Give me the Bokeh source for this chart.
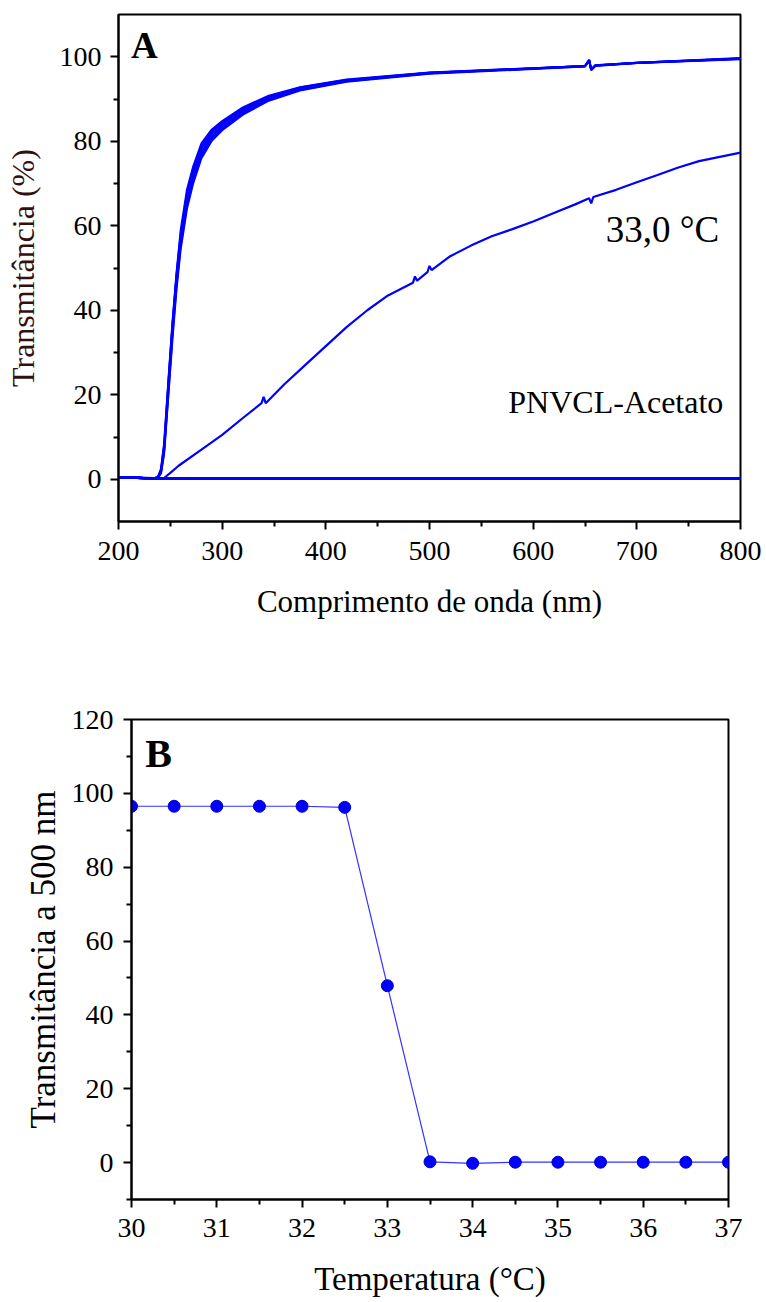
from bokeh.plotting import figure
from bokeh.models import FixedTicker, Label
from bokeh.embed import file_html
from bokeh.resources import INLINE

# ---------------- Panel A data: UV-Vis spectra ----------------
wl_top = [200, 225, 235, 238, 241, 244, 248, 252, 256, 260, 266, 272, 280, 290, 300,
          320, 345, 375, 420, 500, 600, 650, 654, 656, 660, 700, 800]
t_30_0 = [0.5, 0.3, 0.3, 0.5, 2.5, 8.5, 23, 37, 49, 59, 68.5, 74, 79.5, 82.8, 84.8,
          88, 90.8, 92.8, 94.6, 96.3, 97.3, 97.8, 99.3, 97.0, 98.0, 98.6, 99.7]
t_30_5 = [0.5, 0.3, 0.3, 0.5, 2.2, 8.0, 22.5, 36.5, 48.5, 58, 67.5, 73.2, 78.8, 82.3, 84.4,
          87.7, 90.6, 92.7, 94.5, 96.2, 97.3, 97.8, 99.2, 97.0, 98.0, 98.6, 99.6]
t_31_0 = [0.5, 0.3, 0.3, 0.4, 2.0, 7.5, 22, 36, 48, 57, 66.5, 72.4, 78.1, 81.8, 84.0,
          87.4, 90.4, 92.5, 94.4, 96.2, 97.2, 97.8, 99.2, 97.0, 97.9, 98.6, 99.6]
t_31_5 = [0.5, 0.3, 0.3, 0.4, 1.8, 7.0, 21, 35, 47, 56, 65.5, 71.5, 77.4, 81.2, 83.5,
          87.0, 90.1, 92.3, 94.3, 96.1, 97.2, 97.8, 99.1, 96.9, 97.9, 98.5, 99.5]
t_32_0 = [0.5, 0.3, 0.3, 0.4, 1.6, 6.5, 20, 34, 46, 55.3, 64.8, 70.8, 76.7, 80.7, 83.0,
          86.6, 89.8, 92.1, 94.2, 96.1, 97.2, 97.7, 99.1, 96.9, 97.9, 98.5, 99.5]
t_32_5 = [0.5, 0.3, 0.3, 0.3, 1.4, 6.0, 19.5, 33, 45, 54.5, 64.0, 70.0, 76.0, 80.1, 82.6,
          86.3, 89.6, 92.0, 94.1, 96.0, 97.1, 97.7, 99.0, 96.8, 97.8, 98.5, 99.4]

wl_mid = [200, 235, 244, 250, 258, 280, 300, 320, 338, 340, 342, 360, 380, 400, 420, 440,
          460, 484, 486, 488, 498, 500, 502, 520, 540, 560, 580, 600, 620, 640, 654, 656,
          658, 680, 700, 720, 740, 760, 780, 800]
t_33_0 = [0.5, 0.3, 0.3, 1.5, 3.2, 7, 10.5, 14.5, 18, 19.5, 18, 22.5, 27, 31.5, 36, 40,
          43.5, 46.5, 48, 47, 49, 50.5, 49.5, 52.8, 55.3, 57.5, 59.2, 61, 63, 65, 66.5, 65.3,
          66.8, 68.5, 70.3, 72, 73.8, 75.3, 76.3, 77.3]

wl_hot = [200, 230, 245, 800]
t_hot = [0.5, 0.2, 0.2, 0.2]   # 33.5 ... 37.0 degC (all flat)
hot_temps = ["33,5", "34,0", "34,5", "35,0", "35,5", "36,0", "36,5", "37,0"]

# ---------------- Panel B data ----------------
temps = [30, 30.5, 31, 31.5, 32, 32.5, 33, 33.5, 34, 34.5, 35, 35.5, 36, 36.5, 37]
t500 = [96.5, 96.5, 96.5, 96.5, 96.5, 96.2, 47.9, 0.2, -0.2, 0.1, 0.1, 0.1, 0.1, 0.1, 0.1]

FONT = "Liberation Serif"
BLUE = "#0000ff"


def style(p, xt, xminor, yt, yminor):
    p.xgrid.visible = False
    p.ygrid.visible = False
    p.outline_line_color = "black"
    p.outline_line_width = 2
    p.background_fill_color = "white"
    p.border_fill_color = "white"
    p.xaxis.ticker = FixedTicker(ticks=xt, minor_ticks=xminor)
    p.yaxis.ticker = FixedTicker(ticks=yt, minor_ticks=yminor)
    for ax in (p.xaxis[0], p.yaxis[0]):
        ax.axis_line_width = 2
        ax.axis_line_color = "black"
        ax.major_tick_line_width = 2
        ax.minor_tick_line_width = 2
        ax.major_tick_in = 0
        ax.major_tick_out = 8
        ax.minor_tick_in = 0
        ax.minor_tick_out = 5
        ax.major_label_text_font = FONT
        ax.major_label_text_font_size = "28px"
        ax.major_label_text_color = "black"
        ax.axis_label_text_font = FONT
        ax.axis_label_text_font_style = "normal"
        ax.axis_label_text_color = "black"


# ---------------- Panel A ----------------
pA = figure(width=766, height=700, x_range=(200, 800), y_range=(-10, 110),
            output_backend="svg", toolbar_location=None,
            min_border_left=118, min_border_right=26, min_border_top=14, min_border_bottom=179)
style(pA, [200, 300, 400, 500, 600, 700, 800], [250, 350, 450, 550, 650, 750],
      [0, 20, 40, 60, 80, 100], [10, 30, 50, 70, 90])
pA.xaxis.axis_label = "Comprimento de onda (nm)"
pA.yaxis.axis_label = "Transmitância (%)"
pA.xaxis.axis_label_text_font_size = "31px"
pA.yaxis.axis_label_text_font_size = "32px"
pA.yaxis.axis_label_text_color = "#331010"
pA.xaxis.major_label_standoff = 12
pA.xaxis.axis_label_standoff = 21
pA.yaxis.major_label_standoff = 9
pA.yaxis.axis_label_standoff = 16

for _ in hot_temps:
    pA.line(wl_hot, t_hot, line_color=BLUE, line_width=2.2)
for series in (t_30_0, t_30_5, t_31_0, t_31_5, t_32_0, t_32_5):
    pA.line(wl_top, series, line_color=BLUE, line_width=2.0)
pA.line(wl_mid, t_33_0, line_color=BLUE, line_width=2.2)

pA.add_layout(Label(x=212, y=102.6, text="A", text_font=FONT, text_font_size="37px",
                    text_font_style="bold", text_color="black", text_baseline="alphabetic"))
pA.add_layout(Label(x=670, y=59.2, text="33,0 °C", text_font=FONT, text_font_size="37px",
                    text_color="black", text_baseline="alphabetic"))
pA.add_layout(Label(x=576, y=18.2, text="PNVCL-Acetato", text_font=FONT, text_font_size="32px",
                    text_color="black", text_baseline="alphabetic"))

# ---------------- Panel B ----------------
pB = figure(width=766, height=602, x_range=(30, 37), y_range=(-10, 120),
            output_backend="svg", toolbar_location=None,
            min_border_left=131, min_border_right=38, min_border_top=19, min_border_bottom=103)
style(pB, [30, 31, 32, 33, 34, 35, 36, 37], [30.5, 31.5, 32.5, 33.5, 34.5, 35.5, 36.5],
      [0, 20, 40, 60, 80, 100, 120], [-10, 10, 30, 50, 70, 90, 110])
pB.xaxis.axis_label = "Temperatura (°C)"
pB.yaxis.axis_label = "Transmitância a 500 nm"
pB.xaxis.axis_label_text_font_size = "33px"
pB.yaxis.axis_label_text_font_size = "35px"
pB.xaxis.major_label_standoff = 11
pB.xaxis.axis_label_standoff = 21
pB.yaxis.major_label_standoff = 10
pB.yaxis.axis_label_standoff = 6

pB.line(temps, t500, line_color="#3333ff", line_width=1.2)
pB.scatter(temps, t500, size=12, fill_color=BLUE, line_color="#0000cc", line_width=1)

pB.add_layout(Label(x=30.16, y=110.8, text="B", text_font=FONT, text_font_size="40px",
                    text_font_style="bold", text_color="black", text_baseline="alphabetic"))

open("out.html", "w").write(file_html([pA, pB], INLINE))
